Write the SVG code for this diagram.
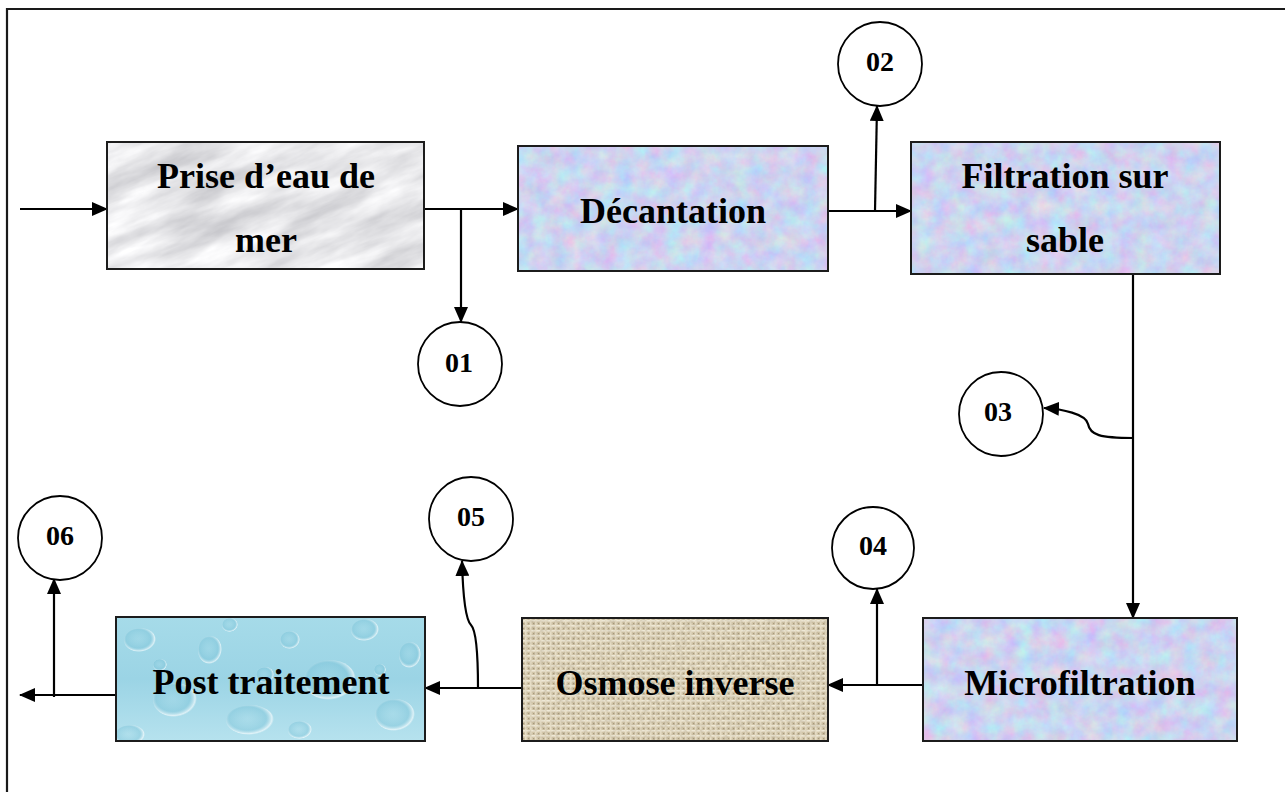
<svg xmlns="http://www.w3.org/2000/svg" width="1285" height="792" viewBox="0 0 1285 792">
  <style>
    .frame { fill: none; stroke: #1a1a1a; stroke-width: 2.2; }
    .box { fill: none; stroke: #1c1c1c; stroke-width: 2; }
    .lbl { font-family: "Liberation Serif", "Times New Roman", serif; font-weight: bold; font-size: 36px; fill: #000; text-anchor: middle; }
    .num { font-family: "Liberation Serif", "Times New Roman", serif; font-weight: bold; font-size: 28px; fill: #000; text-anchor: middle; }
    .circ { fill: #fff; stroke: #000; stroke-width: 1.8; }
    .wire { fill: none; stroke: #000; stroke-width: 2.2; }
    .arr { marker-end: url(#ah); }
  </style>
  <defs>
    <marker id="ah" viewBox="0 0 16 14" refX="15" refY="7" markerWidth="16" markerHeight="14" orient="auto" markerUnits="userSpaceOnUse">
      <path d="M0,0 L16,7 L0,14 Z" fill="#000"/>
    </marker>

    <!-- soft pastel mottled fill -->
    <filter id="fPastel" x="0" y="0" width="1" height="1" color-interpolation-filters="sRGB">
      <feTurbulence type="fractalNoise" baseFrequency="0.06" numOctaves="5" seed="3"/>
      <feColorMatrix type="matrix" values="0.22 0 -0.15 0 0.765  -0.15 0.22 0 0 0.795  0 0 0.12 0 0.88  0 0 0 0 1"/>
    </filter>

    <!-- grey marble -->
    <filter id="fMarble" x="0" y="0" width="1" height="1" color-interpolation-filters="sRGB">
      <feTurbulence type="fractalNoise" baseFrequency="0.012 0.05" numOctaves="5" seed="11"/>
      <feColorMatrix type="matrix" values="0.32 0 0 0 0.74  0.32 0 0 0 0.74  0.3 0 0 0 0.76  0 0 0 0 1"/>
    </filter>

    <!-- fine grain used on the canvas fill -->
    <filter id="fGrain" x="0" y="0" width="1" height="1" color-interpolation-filters="sRGB">
      <feTurbulence type="fractalNoise" baseFrequency="0.25" numOctaves="2" seed="5"/>
      <feColorMatrix type="matrix" values="0 0 0 0 0.5  0 0 0 0 0.45  0 0 0 0 0.35  1.6 0 0 0 -0.6"/>
    </filter>

    <pattern id="pBurlap" width="5" height="5" patternUnits="userSpaceOnUse">
      <rect width="5" height="5" fill="#d3c7aa"/>
      <rect width="5" height="1.6" fill="#efe9d7"/>
      <rect width="1.6" height="5" fill="#e8dfc8"/>
      <rect x="3" y="3" width="1.2" height="1.2" fill="#a99b80"/>
    </pattern>

    <linearGradient id="gWater" x1="0" y1="0" x2="0" y2="1">
      <stop offset="0" stop-color="#a6dbe9"/>
      <stop offset="0.5" stop-color="#9bd4e5"/>
      <stop offset="1" stop-color="#b6e2ee"/>
    </linearGradient>
    <radialGradient id="gDrop" cx="0.45" cy="0.45" r="0.55">
      <stop offset="0" stop-color="#8fcfe0" stop-opacity="0.1"/>
      <stop offset="0.7" stop-color="#6fbcd3" stop-opacity="0.35"/>
      <stop offset="0.92" stop-color="#ffffff" stop-opacity="0.6"/>
      <stop offset="1" stop-color="#ffffff" stop-opacity="0"/>
    </radialGradient>

    <clipPath id="cPrise"><rect x="107" y="142" width="317" height="127"/></clipPath>
    <clipPath id="cPost"><rect x="116" y="617" width="309" height="124"/></clipPath>
  </defs>

  <!-- page border -->
  <path class="frame" d="M7,800 V9 H1300"/>

  <!-- connectors -->
  <g id="connectors">
    <path class="wire arr" d="M20,209 H107"/>
    <path class="wire arr" d="M424,209 H518"/>
    <path class="wire arr" d="M461,209 V322"/>
    <path class="wire arr" d="M828,211 H911"/>
    <path class="wire arr" d="M875,211 L877,106"/>
    <path class="wire arr" d="M1133,274 V618"/>
    <path class="wire arr" d="M1133,438 C1100,438 1090,435 1088,424 C1086,414 1062,409 1044,408"/>
    <path class="wire arr" d="M923,685 H828"/>
    <path class="wire arr" d="M877,685 V589"/>
    <path class="wire arr" d="M522,688 H425"/>
    <path class="wire arr" d="M478,688 C478,650 476,630 471,625 C466,620 463,600 462,561"/>
    <path class="wire arr" d="M116,695 H20"/>
    <path class="wire arr" d="M54,697 V579"/>
  </g>

  <!-- process blocks -->
  <g id="prise">
    <g clip-path="url(#cPrise)">
      <rect x="40" y="40" width="460" height="340" transform="rotate(-22 265 205)" fill="#ddd" filter="url(#fMarble)"/>
    </g>
    <rect class="box" x="107" y="142" width="317" height="127"/>
    <text class="lbl" x="266" y="188">Prise d’eau de</text>
    <text class="lbl" x="266" y="252">mer</text>
  </g>

  <g id="decantation">
    <rect x="518" y="146" width="310" height="125" fill="#ccd" filter="url(#fPastel)"/>
    <rect class="box" x="518" y="146" width="310" height="125"/>
    <text class="lbl" x="673" y="223">Décantation</text>
  </g>

  <g id="filtration">
    <rect x="911" y="142" width="309" height="132" fill="#ccd" filter="url(#fPastel)"/>
    <rect class="box" x="911" y="142" width="309" height="132"/>
    <text class="lbl" x="1065" y="188">Filtration sur</text>
    <text class="lbl" x="1065" y="252">sable</text>
  </g>

  <g id="microfiltration">
    <rect x="923" y="618" width="314" height="123" fill="#ccd" filter="url(#fPastel)"/>
    <rect class="box" x="923" y="618" width="314" height="123"/>
    <text class="lbl" x="1080" y="695">Microfiltration</text>
  </g>

  <g id="osmose">
    <rect x="522" y="618" width="306" height="123" fill="url(#pBurlap)"/>
    <rect x="522" y="618" width="306" height="123" fill="#000" filter="url(#fGrain)" opacity="0.3"/>
    <rect class="box" x="522" y="618" width="306" height="123"/>
    <text class="lbl" x="675" y="695">Osmose inverse</text>
  </g>

  <g id="post">
    <g clip-path="url(#cPost)">
      <rect x="116" y="617" width="309" height="124" fill="url(#gWater)"/>
      <g fill="url(#gDrop)">
        <ellipse cx="140" cy="640" rx="16" ry="12"/>
        <ellipse cx="175" cy="700" rx="22" ry="17"/>
        <ellipse cx="210" cy="650" rx="12" ry="14"/>
        <ellipse cx="250" cy="720" rx="24" ry="15"/>
        <ellipse cx="290" cy="640" rx="10" ry="9"/>
        <ellipse cx="330" cy="680" rx="26" ry="20"/>
        <ellipse cx="365" cy="630" rx="14" ry="11"/>
        <ellipse cx="395" cy="715" rx="20" ry="16"/>
        <ellipse cx="410" cy="655" rx="11" ry="13"/>
        <ellipse cx="130" cy="735" rx="15" ry="10"/>
        <ellipse cx="230" cy="625" rx="8" ry="7"/>
        <ellipse cx="300" cy="730" rx="12" ry="9"/>
        <ellipse cx="160" cy="665" rx="7" ry="6"/>
        <ellipse cx="265" cy="675" rx="9" ry="8"/>
        <ellipse cx="380" cy="670" rx="6" ry="6"/>
      </g>
    </g>
    <rect class="box" x="116" y="617" width="309" height="124"/>
    <text class="lbl" x="271" y="694">Post traitement</text>
  </g>

  <!-- numbered outlets -->
  <g id="n01"><circle class="circ" cx="460" cy="364" r="42"/><text class="num" x="459" y="372">01</text></g>
  <g id="n02"><circle class="circ" cx="880" cy="64" r="42"/><text class="num" x="880" y="71">02</text></g>
  <g id="n03"><circle class="circ" cx="1001" cy="414" r="42"/><text class="num" x="998" y="421">03</text></g>
  <g id="n04"><circle class="circ" cx="873" cy="548" r="41"/><text class="num" x="873" y="555">04</text></g>
  <g id="n05"><circle class="circ" cx="471" cy="519" r="42"/><text class="num" x="471" y="526">05</text></g>
  <g id="n06"><circle class="circ" cx="60" cy="538" r="42"/><text class="num" x="60" y="545">06</text></g>
</svg>
